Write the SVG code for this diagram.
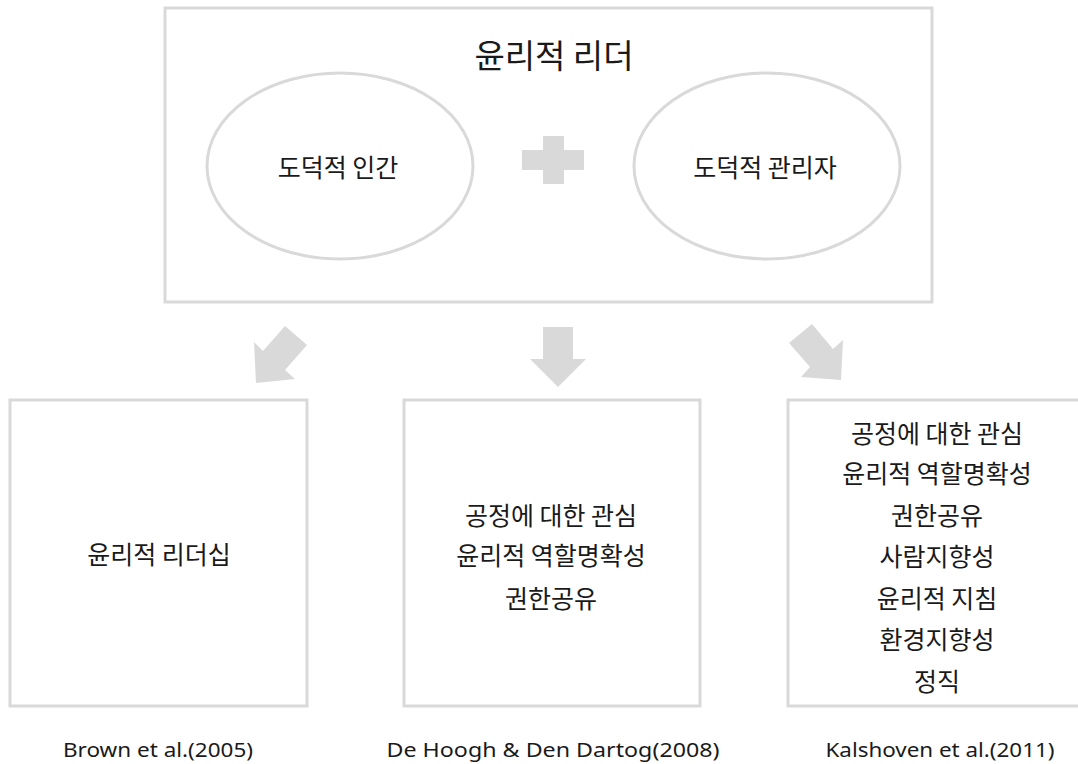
<svg xmlns="http://www.w3.org/2000/svg" width="1078" height="764" viewBox="0 0 1078 764">
<style>
.box{fill:#fff;stroke:#d9d9d9;stroke-width:3}
.shape{fill:#d9d9d9;stroke:none}
.t{font-family:"Noto Sans CJK KR","Noto Sans",sans-serif;fill:#1a1a1a;text-anchor:middle;dominant-baseline:central}
.m{font-size:25px}
.title{font-size:33px}
.cap{font-family:"Noto Sans","Noto Sans CJK KR",sans-serif;font-size:20px;fill:#1a1a1a;text-anchor:middle}
</style>
<rect width="1078" height="764" fill="#fff"/>
<g id="ethical-leader">
<rect class="box" x="165" y="8" width="767" height="294"/>
<text class="t title" x="554" y="54">윤리적 리더</text>
</g>
<g id="moral-person">
<ellipse class="box" cx="340" cy="166" rx="133" ry="93"/>
<text class="t m" x="338" y="166">도덕적 인간</text>
</g>
<g id="plus">
<rect class="shape" x="543" y="136" width="21" height="48"/>
<rect class="shape" x="522" y="150" width="62" height="20"/>
</g>
<g id="moral-manager">
<ellipse class="box" cx="767" cy="166" rx="133" ry="93"/>
<text class="t m" x="765" y="166">도덕적 관리자</text>
</g>
<g id="connectors">
<polygon class="shape" points="285,326 307,345 285,370 295,379 256,383 254,342 263,351"/>
<polygon class="shape" points="543,327 573,327 573,359 586,359 558,387 530,359 543,359"/>
<polygon class="shape" points="812,324 789,343 810,367 801,377 841,380 843,340 833,349"/>
</g>
<g id="brown">
<rect class="box" x="10" y="400" width="297" height="306"/>
<text class="t m" x="159" y="553">윤리적 리더십</text>
<text class="cap" x="158" y="757" textLength="190" lengthAdjust="spacingAndGlyphs">Brown et al.(2005)</text>
</g>
<g id="dehoogh">
<rect class="box" x="404" y="400" width="296" height="306"/>
<text class="t m" x="551" y="514">공정에 대한 관심</text>
<text class="t m" x="551" y="554">윤리적 역할명확성</text>
<text class="t m" x="551" y="597">권한공유</text>
<text class="cap" x="553" y="757" textLength="333" lengthAdjust="spacingAndGlyphs">De Hoogh &amp; Den Dartog(2008)</text>
</g>
<g id="kalshoven">
<rect class="box" x="788" y="400" width="310" height="306"/>
<text class="t m" x="937" y="432">공정에 대한 관심</text>
<text class="t m" x="937" y="472">윤리적 역할명확성</text>
<text class="t m" x="937" y="514">권한공유</text>
<text class="t m" x="937" y="555">사람지향성</text>
<text class="t m" x="937" y="597">윤리적 지침</text>
<text class="t m" x="937" y="638">환경지향성</text>
<text class="t m" x="937" y="680">정직</text>
<text class="cap" x="940" y="757" textLength="229" lengthAdjust="spacingAndGlyphs">Kalshoven et al.(2011)</text>
</g>
</svg>
